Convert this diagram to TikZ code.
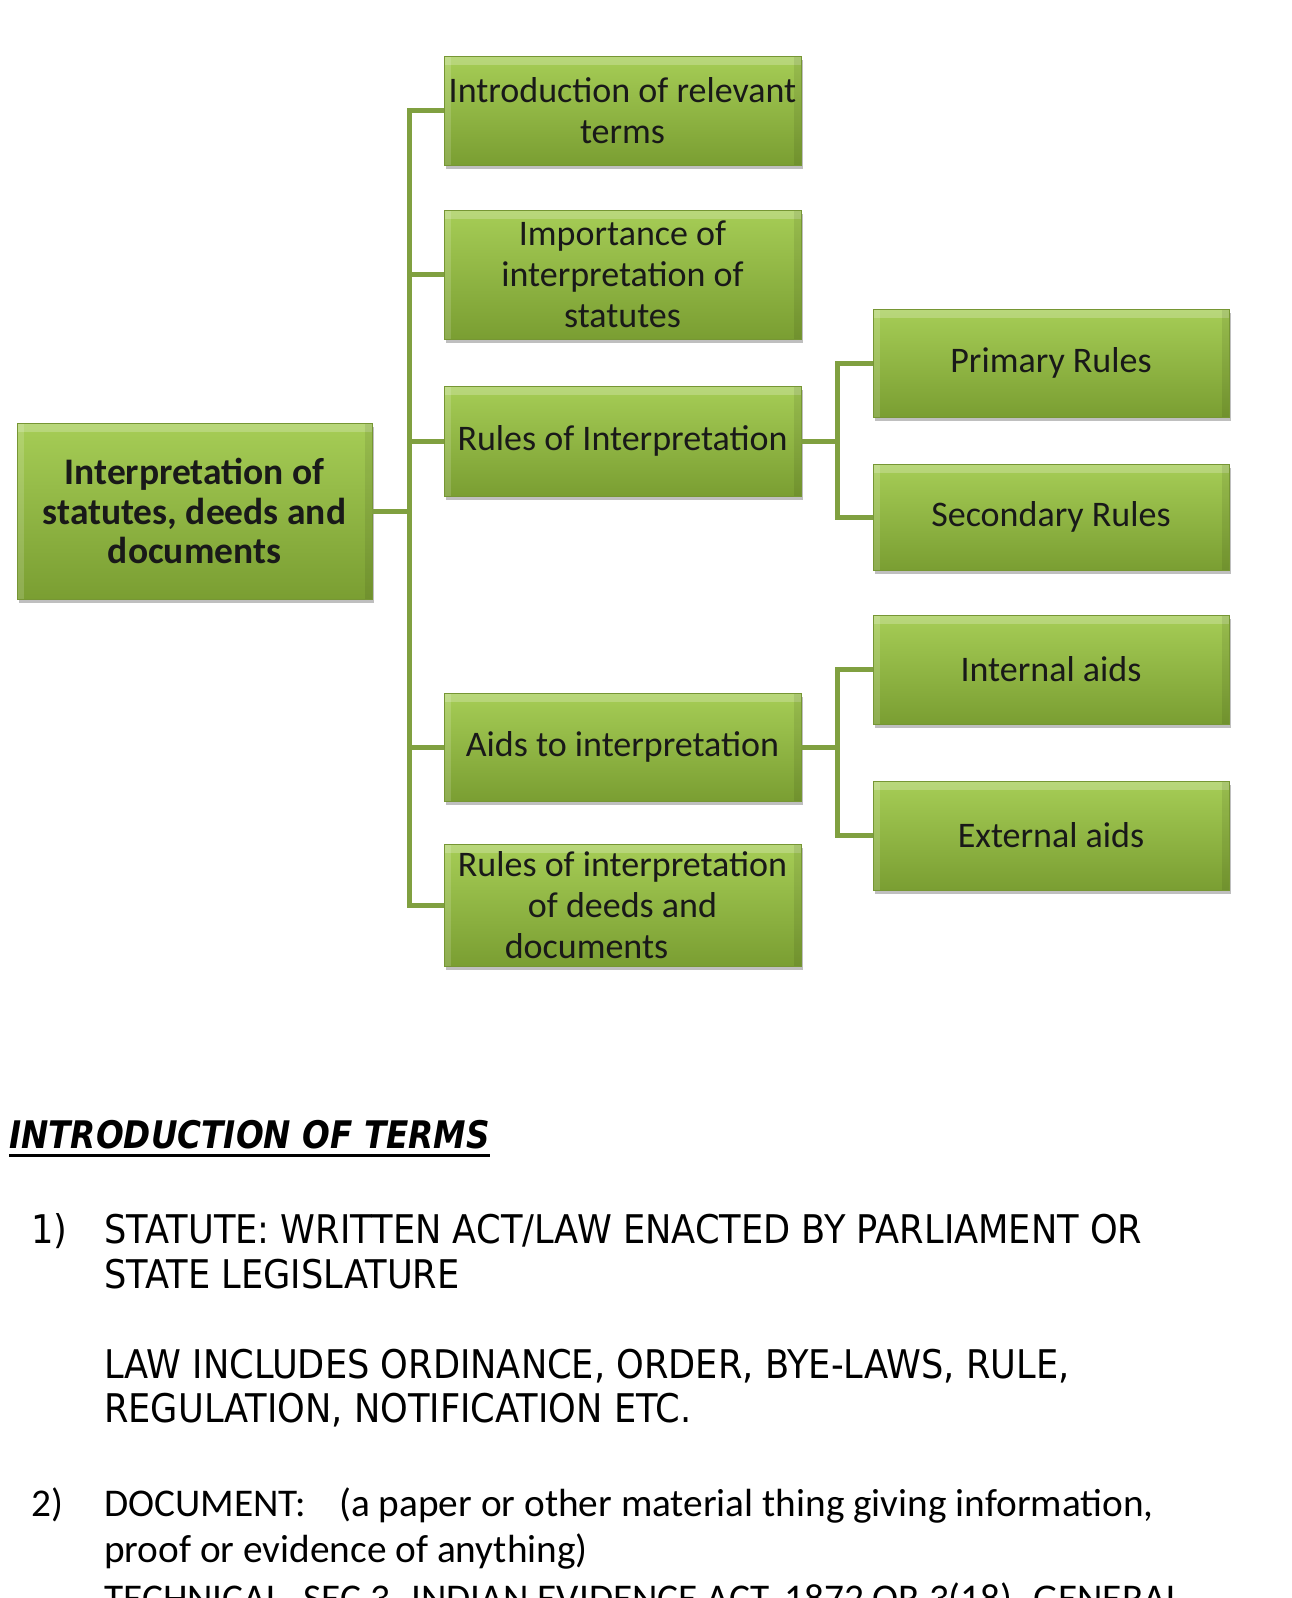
\documentclass[tikz,border=0pt]{standalone}
\usepackage{fontspec}
\setmainfont{Carlito}
\newfontfamily\tahfont[FakeStretch=0.892]{DejaVu Sans}
\newfontfamily\tahbifont[FakeStretch=0.86]{DejaVu Sans Bold Oblique}
\usetikzlibrary{shadows,calc}
\definecolor{gtop}{RGB}{166,205,86}
\definecolor{gbot}{RGB}{122,158,50}
\definecolor{gline}{RGB}{128,160,64}
\definecolor{gedge}{RGB}{118,150,52}
\tikzset{
  gbox/.style={draw=gedge, line width=0.8pt, top color=gtop, bottom color=gbot,
    inner sep=0pt, align=center, text=black!90,
    font=\fontsize{36}{41}\selectfont,
    drop shadow={shadow xshift=2pt, shadow yshift=-4pt, opacity=0.25, fill=black},
    path picture={
      \fill[white, opacity=0.22] (path picture bounding box.north west) rectangle ([yshift=-9pt]path picture bounding box.north east);
      \fill[white, opacity=0.15] (path picture bounding box.north west) rectangle ([xshift=7pt]path picture bounding box.south west);
      \fill[black, opacity=0.08] ([xshift=-7pt]path picture bounding box.north east) rectangle (path picture bounding box.south east);
    }},
  l1box/.style={gbox, minimum width=357pt},
  l2box/.style={gbox, minimum width=356pt},
  conn/.style={draw=gline, line width=5pt, line join=miter},
  tline/.style={anchor=base west, inner sep=0pt, font=\tahfont\fontsize{39.5}{45}\selectfont},
  cline/.style={anchor=base west, inner sep=0pt, font=\fontsize{39.3}{46}\selectfont},
}
\begin{document}
\begin{tikzpicture}[x=1pt,y=-1pt]
\useasboundingbox (0,0) rectangle (1292,1598);
\clip (0,0) rectangle (1292,1598);
\fill[white] (0,0) rectangle (1292,1598);

% nodes
\node[gbox, minimum width=355pt, minimum height=176pt, font=\bfseries\fontsize{37.5}{39.5}\selectfont] (root) at (194.5,511) {Interpretation of\\statutes, deeds and\\documents};

\node[l1box, minimum height=109pt] (b1) at (622.5,110.5) {Introduction of relevant\\terms};
\node[l1box, minimum height=129pt] (b2) at (622.5,274.5) {Importance of\\interpretation of\\statutes};
\node[l1box, minimum height=110pt] (b3) at (622.5,441) {Rules of Interpretation};
\node[l1box, minimum height=108pt] (b4) at (622.5,747) {Aids to interpretation};
\node[l1box, minimum height=122pt] (b5) at (622.5,905) {Rules of interpretation\\of deeds and\\documents\hspace*{2em}};

\node[l2box, minimum height=108pt] (pr) at (1051,363) {Primary Rules};
\node[l2box, minimum height=106pt] (sr) at (1051,517) {Secondary Rules};
\node[l2box, minimum height=109pt] (ia) at (1051,669.5) {Internal aids};
\node[l2box, minimum height=109pt] (ea) at (1051,835.5) {External aids};

% connectors
\coordinate (tk) at (409,0);
\coordinate (sk) at (837,0);
\draw[conn] (root.east) -- (root.east -| tk);
\draw[conn] (b1.west) -- (b1.west -| tk) -- (b5.west -| tk) -- (b5.west);
\draw[conn] (b2.west) -- (b2.west -| tk);
\draw[conn] (b3.west) -- (b3.west -| tk);
\draw[conn] (b4.west) -- (b4.west -| tk);
\draw[conn] (b3.east) -- (b3.east -| sk);
\draw[conn] (pr.west) -- (pr.west -| sk) -- (sr.west -| sk) -- (sr.west);
\draw[conn] (b4.east) -- (b4.east -| sk);
\draw[conn] (ia.west) -- (ia.west -| sk) -- (ea.west -| sk) -- (ea.west);

% text section
\node[anchor=base west, inner sep=0pt, font=\tahbifont\fontsize{38}{44}\selectfont] (hd) at (9,1148) {INTRODUCTION OF TERMS};
\draw[line width=3pt] ([yshift=-7pt]hd.base west) -- ([yshift=-7pt]hd.base east);

\node[tline] (n1) at (31,1243) {1)};
\node[tline] (t1) at (104,1243) {STATUTE: WRITTEN ACT/LAW ENACTED BY PARLIAMENT OR};
\node[tline] (t2) at (104,1288) {STATE LEGISLATURE};
\node[tline] (t3) at (104,1378) {LAW INCLUDES ORDINANCE, ORDER, BYE-LAWS, RULE,};
\node[tline] (t4) at (104,1422) {REGULATION, NOTIFICATION ETC.};

\node[cline] (n2) at (31,1516) {2)};
\node[cline] (d1) at (104,1516) {DOCUMENT:};
\node[cline] (d2) at (339,1516) {(a paper or other material thing giving information,};
\node[cline] (d3) at (104,1562) {proof or evidence of anything)};
\node[cline] (d4) at (104,1611) {TECHNICAL- SEC 3- INDIAN EVIDENCE ACT, 1872 OR 3(18)- GENERAL};
\end{tikzpicture}
\end{document}
